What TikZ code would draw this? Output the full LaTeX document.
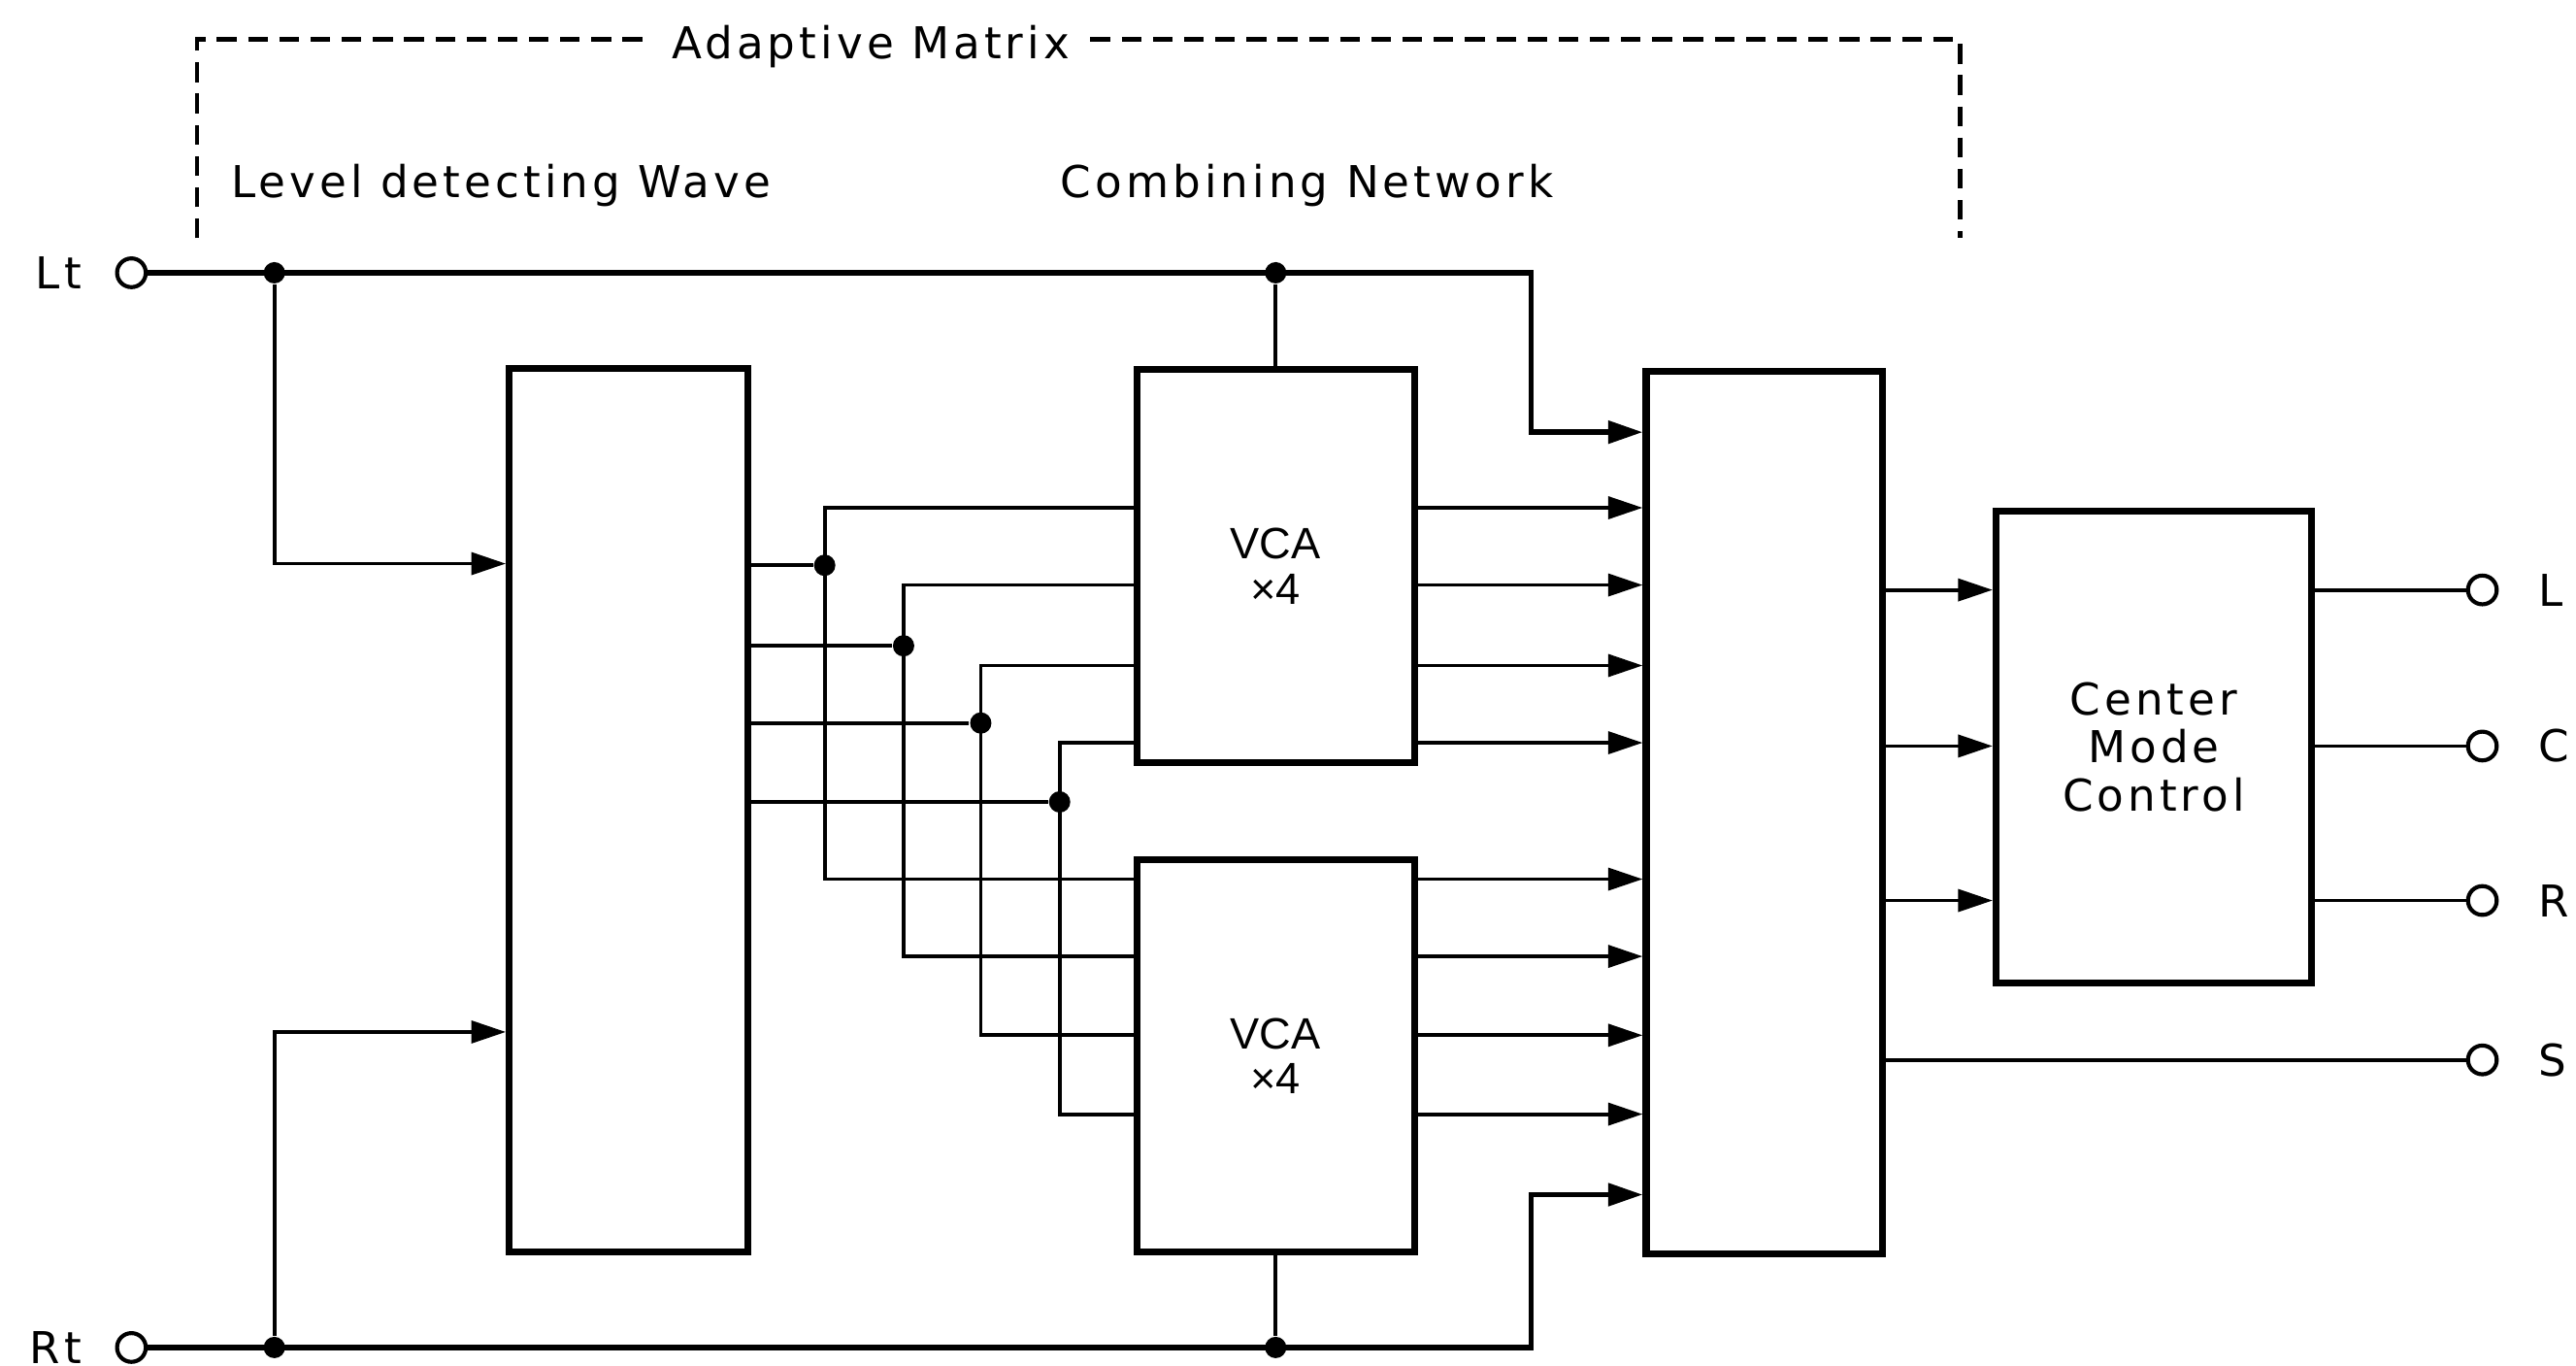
\documentclass[tikz,border=0pt]{standalone}
\usepackage{fontspec}
\setmainfont{DejaVu Sans}[LetterSpace=9]
\newfontfamily\vcafont{Liberation Sans}
\usetikzlibrary{arrows.meta,positioning}

\tikzset{
  blk/.style={draw,line width=1.2pt,inner sep=0pt},
  sig/.style={line width=0.65pt},
  mainsig/.style={line width=0.9pt},
  frame/.style={line width=0.8pt,dash pattern=on 1.2mm off 0.7mm},
  jdot/.style={circle,fill,inner sep=0pt,minimum size=1.3mm},
  term/.style={circle,draw,line width=0.7pt,inner sep=0pt,minimum size=1.75mm},
  lbl/.style={font=\fontsize{7.6}{8.3}\selectfont},
  vcalbl/.style={font=\vcafont\fontsize{7.6}{7.8}\selectfont,align=center},
}

\begin{document}
\begin{tikzpicture}[x=0.1mm,y=-0.1mm,>={Triangle[length=2.1mm,width=1.35mm]}]
  \useasboundingbox (0,0) rectangle (1568,831);

  % dashed frame
  \node[lbl,anchor=base,inner xsep=1.2mm] (mtx) at (530,35.5) {Adaptive Matrix};
  \coordinate (ftl) at (120,24);
  \coordinate (ftr) at (1193,24);
  \coordinate (fbl) at (120,145);
  \coordinate (fbr) at (1193,145);
  \draw[frame] (fbl) -- (ftl) -- (ftl -| mtx.west);
  \draw[frame] (ftr -| mtx.east) -- (ftr) -- (fbr);
  \node[lbl,anchor=base west,inner sep=0pt] (lvltxt) at (140,120) {Level detecting Wave};
  \node[lbl,anchor=base west,inner sep=0pt] (cmbtxt) at (645,120) {Combining Network};

  % blocks
  \node[blk,minimum width=14.5mm,minimum height=53.8mm] (lvl) at (382.5,493) {};
  \node[blk,vcalbl,minimum width=16.9mm,minimum height=23.9mm] (vcaA) at (776.5,344.5) {VCA\\×4};
  \node[blk,vcalbl,minimum width=16.9mm,minimum height=23.9mm] (vcaB) at (776.5,642.5) {VCA\\×4};
  \node[blk,minimum width=14.4mm,minimum height=53.7mm] (cmb) at (1074,494.5) {};
  \node[blk,lbl,align=center,minimum width=19.2mm,minimum height=28.7mm] (cmc) at (1311,454.5) {Center\\Mode\\Control};

  % terminals
  \node[term] (lt) at (80,166) {};
  \node[term] (rt) at (80,820) {};
  \node[lbl,left=0.8mm of lt] (lttxt) {Lt};
  \node[lbl,left=0.8mm of rt] (rttxt) {Rt};
  \foreach \n/\t/\y in {outL/L/359,outC/C/454,outR/R/548,outS/S/645} {
    \node[term] (\n) at (1511,\y) {};
    \node[lbl,right=1.2mm of \n] (\n txt) {\t};
  }

  % inputs
  \node[jdot] (jlt) at (167,166) {};
  \node[jdot] (jrt) at (167,820) {};
  \node[jdot] (jvt) at (vcaA.north |- lt) {};
  \node[jdot] (jvb) at (vcaB.south |- rt) {};
  \coordinate (ltbend) at (932,166);
  \coordinate (ltin) at (932,263);
  \coordinate (rtbend) at (932,820);
  \coordinate (rtin) at (932,727);
  \coordinate (lvlA) at (167,343);
  \coordinate (lvlB) at (167,628);
  \draw[mainsig,->] (lt) -- (ltbend) -- (ltin) -- (cmb.west |- ltin);
  \draw[mainsig,->] (rt) -- (rtbend) -- (rtin) -- (cmb.west |- rtin);
  \draw[sig,->] (jlt) -- (lvlA) -- (lvl.west |- lvlA);
  \draw[sig,->] (jrt) -- (lvlB) -- (lvl.west |- lvlB);
  \draw[sig] (jvt) -- (vcaA);
  \draw[sig] (jvb) -- (vcaB);

  % level outputs split to both VCA banks
  \foreach \i/\x/\yo/\yt/\yb in {1/502/344/309/535,2/550/393/356/582,3/597/440/405/630,4/645/488/452/678} {
    \node[jdot] (jo\i) at (\x,\yo) {};
    \coordinate (vt\i) at (\x,\yt);
    \coordinate (vb\i) at (\x,\yb);
    \draw[sig] (lvl.east |- jo\i) -- (jo\i);
    \draw[sig] (vcaA.west |- vt\i) -- (vt\i) -- (vb\i) -- (vcaB.west |- vb\i);
    \draw[sig,->] (vcaA.east |- vt\i) -- (cmb.west |- vt\i);
    \draw[sig,->] (vcaB.east |- vb\i) -- (cmb.west |- vb\i);
  }

  % outputs
  \foreach \n in {outL,outC,outR} {
    \draw[sig,->] (cmb.east |- \n) -- (cmc.west |- \n);
    \draw[sig] (cmc.east |- \n) -- (\n);
  }
  \draw[sig] (cmb.east |- outS) -- (outS);
\end{tikzpicture}
\end{document}
